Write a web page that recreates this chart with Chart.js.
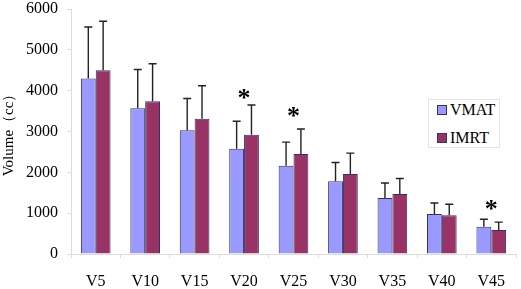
<!DOCTYPE html>
<html>
<head>
<meta charset="utf-8">
<script src="https://cdn.jsdelivr.net/npm/chart.js@4/dist/chart.umd.min.js"></script>
<style>
  html, body { margin: 0; padding: 0; background: #fff; }
  #wrap { position: relative; width: 521px; height: 289px; }
  #legend {
    position: absolute; left: 428px; top: 99px; width: 70px; height: 47px;
    border: 1px solid #e4e4e4; background: #fff;
    font-family: "Liberation Serif", "Times New Roman", serif; font-size: 16px; color: #000;
  }
  .item { position: absolute; left: 8px; display: flex; align-items: center; }
  .sw { width: 8px; height: 8px; border: 1px solid #333366; margin-right: 3px; }
</style>
</head>
<body>
<div id="wrap">
  <canvas id="chart" width="521" height="289"></canvas>
  <div id="legend">
    <div class="item" style="top:1px"><span class="sw" style="background:#9999ff"></span>VMAT</div>
    <div class="item" style="top:29px"><span class="sw" style="background:#993366"></span>IMRT</div>
  </div>
</div>
<script>
// chart data
const categories = ['V5', 'V10', 'V15', 'V20', 'V25', 'V30', 'V35', 'V40', 'V45'];
const vmatMean = [4300, 3570, 3030, 2580, 2160, 1780, 1370, 980, 670];
const vmatUpper = [5560, 4520, 3810, 3250, 2740, 2240, 1740, 1250, 850];
const imrtMean = [4500, 3740, 3310, 2920, 2450, 1960, 1470, 950, 590];
const imrtUpper = [5700, 4660, 4120, 3650, 3060, 2470, 1850, 1220, 780];
// significance star heights (null = no star)
const starValues = [null, null, null, 3780, 3360, null, null, null, 1080];
const yTicks = [0, 1000, 2000, 3000, 4000, 5000, 6000];

const serif = '"Liberation Serif", "Times New Roman", serif';

const errorBars = {
  id: 'errorBars',
  afterDatasetsDraw(chart) {
    const ctx = chart.ctx;
    const y = chart.scales.y;
    const uppers = [vmatUpper, imrtUpper];
    ctx.save();
    ctx.strokeStyle = '#222';
    ctx.lineWidth = 1.4;
    chart.data.datasets.forEach((ds, d) => {
      chart.getDatasetMeta(d).data.forEach((bar, i) => {
        const top = y.getPixelForValue(uppers[d][i]);
        ctx.beginPath();
        ctx.moveTo(bar.x, bar.y);
        ctx.lineTo(bar.x, top);
        ctx.moveTo(bar.x - 4, top);
        ctx.lineTo(bar.x + 4, top);
        ctx.stroke();
      });
    });
    // stars
    ctx.fillStyle = '#000';
    ctx.font = 'bold 26px ' + serif;
    ctx.textAlign = 'center';
    ctx.textBaseline = 'middle';
    starValues.forEach((v, i) => {
      if (v == null) return;
      const x = chart.scales.x.getPixelForValue(i);
      ctx.fillText('*', x, y.getPixelForValue(v));
    });
    ctx.restore();
  }
};

new Chart(document.getElementById('chart'), {
  type: 'bar',
  data: {
    labels: categories,
    datasets: [
      { label: 'VMAT', data: vmatMean, backgroundColor: '#9999ff', borderColor: '#333366', borderWidth: 1 },
      { label: 'IMRT', data: imrtMean, backgroundColor: '#993366', borderColor: '#333366', borderWidth: 1 }
    ]
  },
  options: {
    responsive: false,
    animation: false,
    categoryPercentage: 0.6,
    barPercentage: 1.0,
    layout: { padding: { top: 9, right: 5, left: 0, bottom: 0 } },
    plugins: { legend: { display: false }, tooltip: { enabled: false } },
    scales: {
      x: {
        grid: { display: true, drawOnChartArea: false, offset: true, color: '#ddd', tickLength: 4 },
        border: { color: '#ddd' },
        ticks: { color: '#000', font: { family: serif, size: 16 }, padding: 14 },
        afterFit(s) { s.height = 35; s.paddingLeft = 0; s.paddingRight = 0; }
      },
      y: {
        min: 0, max: 6000,
        afterBuildTicks(s) { s.ticks = yTicks.map(v => ({ value: v })); },
        grid: { display: true, drawOnChartArea: false, color: '#ddd', tickLength: 4 },
        border: { color: '#ddd' },
        ticks: { color: '#000', font: { family: serif, size: 16 }, padding: 9, callback: v => String(v) },
        title: { display: true, text: 'Volume（cc）', color: '#000', font: { family: serif, size: 15 }, padding: 0 },
        afterFit(s) { s.width = 71; s.paddingTop = 0; s.paddingBottom = 0; }
      }
    }
  },
  plugins: [errorBars]
});
</script>
</body>
</html>
